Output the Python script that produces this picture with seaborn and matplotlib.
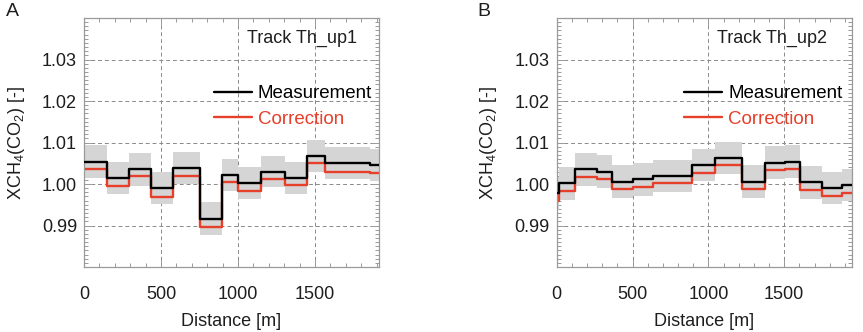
import matplotlib
matplotlib.use("Agg")
import matplotlib.pyplot as plt
import seaborn as sns
import pandas as pd
from matplotlib.ticker import MultipleLocator, FixedLocator, FormatStrFormatter

# ---------------- data ----------------
edges_a = [0, 151, 294, 435, 580, 753, 894, 1002, 1149, 1305, 1450, 1565, 1857, 1915]
meas_a = [1.0054, 1.0014, 1.0035, 0.9990, 1.0038, 0.9916, 1.0022, 1.0002, 1.0030, 1.0014, 1.0068, 1.0050, 1.0046]
corr_a = [1.0035, 0.9995, 1.0019, 0.9969, 1.0020, 0.9897, 1.0004, 0.9984, 1.0013, 0.9997, 1.0050, 1.0030, 1.0026]
unc_a = [0.0039, 0.0039, 0.0040, 0.0038, 0.0038, 0.0040, 0.0038, 0.0038, 0.0038, 0.0039, 0.0039, 0.0039, 0.0039]

edges_b = [0, 17, 121, 263, 362, 500, 637, 889, 1043, 1219, 1372, 1504, 1603, 1746, 1884, 1945]
meas_b = [0.9978, 1.0002, 1.0035, 1.0030, 1.0006, 1.0011, 1.0019, 1.0046, 1.0062, 1.0006, 1.0051, 1.0054, 1.0004, 0.9990, 0.9998]
corr_b = [0.9959, 0.9982, 1.0018, 1.0011, 0.9987, 0.9992, 1.0002, 1.0027, 1.0046, 0.9987, 1.0034, 1.0035, 0.9986, 0.9971, 0.9979]
unc_b = [0.0040, 0.0040, 0.0039, 0.0039, 0.0039, 0.0039, 0.0038, 0.0039, 0.0039, 0.0040, 0.0040, 0.0040, 0.0039, 0.0039, 0.0039]

track_names = ["Track Th_up1", "Track Th_up2"]
panel_letters = ["A", "B"]
y_ticks = [0.99, 1.00, 1.01, 1.02, 1.03]
x_ticks = [0, 500, 1000, 1500]

# ---------------- style ----------------
sns.set_style("ticks")
plt.rcParams["font.family"] = ["Liberation Sans", "DejaVu Sans"]
plt.rcParams["mathtext.default"] = "regular"

RED = "#e63f2a"
BAND = "#d5d5d5"
TXT = "#1e1e1e"
SPINE = "#9a9a9a"

fig = plt.figure(figsize=(8.63, 3.32), dpi=100)
axA = fig.add_axes([84 / 863, 1 - 267 / 332, 295 / 863, 249 / 332])
axB = fig.add_axes([556.7 / 863, 1 - 267 / 332, 295 / 863, 249 / 332])

panels = [
    (axA, edges_a, meas_a, corr_a, unc_a, 1915, 0.440, 0.552),
    (axB, edges_b, meas_b, corr_b, unc_b, 1945, 0.4315, 0.542),
]

for i, (ax, edges, meas, corr, unc, xmax, legx, trackx) in enumerate(panels):
    m_ext = meas + [meas[-1]]
    c_ext = corr + [corr[-1]]
    lo = [m - u for m, u in zip(meas, unc)]
    hi = [m + u for m, u in zip(meas, unc)]
    lo += [lo[-1]]
    hi += [hi[-1]]
    df = pd.DataFrame({"dist": edges, "meas": m_ext, "corr": c_ext, "lo": lo, "hi": hi})

    ax.fill_between(df["dist"], df["lo"], df["hi"], step="post", color=BAND, lw=0, zorder=1)
    sns.lineplot(data=df, x="dist", y="meas", ax=ax, color="black", lw=1.7,
                 drawstyle="steps-post", estimator=None, sort=False,
                 label="Measurement", zorder=3)
    sns.lineplot(data=df, x="dist", y="corr", ax=ax, color=RED, lw=1.7,
                 drawstyle="steps-post", estimator=None, sort=False,
                 label="Correction", zorder=2)

    ax.set_xlim(0, xmax)
    ax.set_ylim(0.98, 1.04)
    ax.xaxis.set_major_locator(FixedLocator(x_ticks))
    ax.xaxis.set_minor_locator(MultipleLocator(100))
    ax.yaxis.set_major_locator(FixedLocator(y_ticks))
    ax.yaxis.set_minor_locator(MultipleLocator(0.001))
    ax.yaxis.set_major_formatter(FormatStrFormatter("%.2f"))

    ax.grid(True, which="major", color="#8a8a8a", ls=(0, (4, 3)), lw=0.7, zorder=0)
    ax.set_axisbelow(True)
    ax.tick_params(which="both", direction="in", top=True, right=True,
                   color=SPINE, width=0.7, labelsize=13, labelcolor=TXT)
    ax.tick_params(which="major", length=6)
    ax.tick_params(which="minor", length=3)
    ax.tick_params(axis="x", which="major", pad=14)
    ax.tick_params(axis="y", which="major", pad=5)
    for sp in ax.spines.values():
        sp.set_color(SPINE)
        sp.set_linewidth(0.9)

    ax.set_xlabel("Distance [m]", fontsize=13, color=TXT, labelpad=7)
    ax.set_ylabel(r"XCH$_4$(CO$_2$) [-]", fontsize=13, color=TXT, labelpad=11)

    leg = ax.legend(loc="upper left", bbox_to_anchor=(legx, 0.731), frameon=False,
                    fontsize=13.5, handlelength=2.05, handletextpad=0.3,
                    labelspacing=0.45, borderpad=0, borderaxespad=0,
                    labelcolor="linecolor")
    for h in leg.legend_handles:
        h.set_linewidth(1.7)

    ax.text(trackx, 0.92, track_names[i], transform=ax.transAxes,
            fontsize=13, color=TXT, ha="left", va="center")

fig.text(12 / 863, 1 - 12 / 332, panel_letters[0], fontsize=14, color=TXT, ha="center", va="center")
fig.text(484 / 863, 1 - 12 / 332, panel_letters[1], fontsize=14, color=TXT, ha="center", va="center")

fig.savefig("out.png", dpi=100)
